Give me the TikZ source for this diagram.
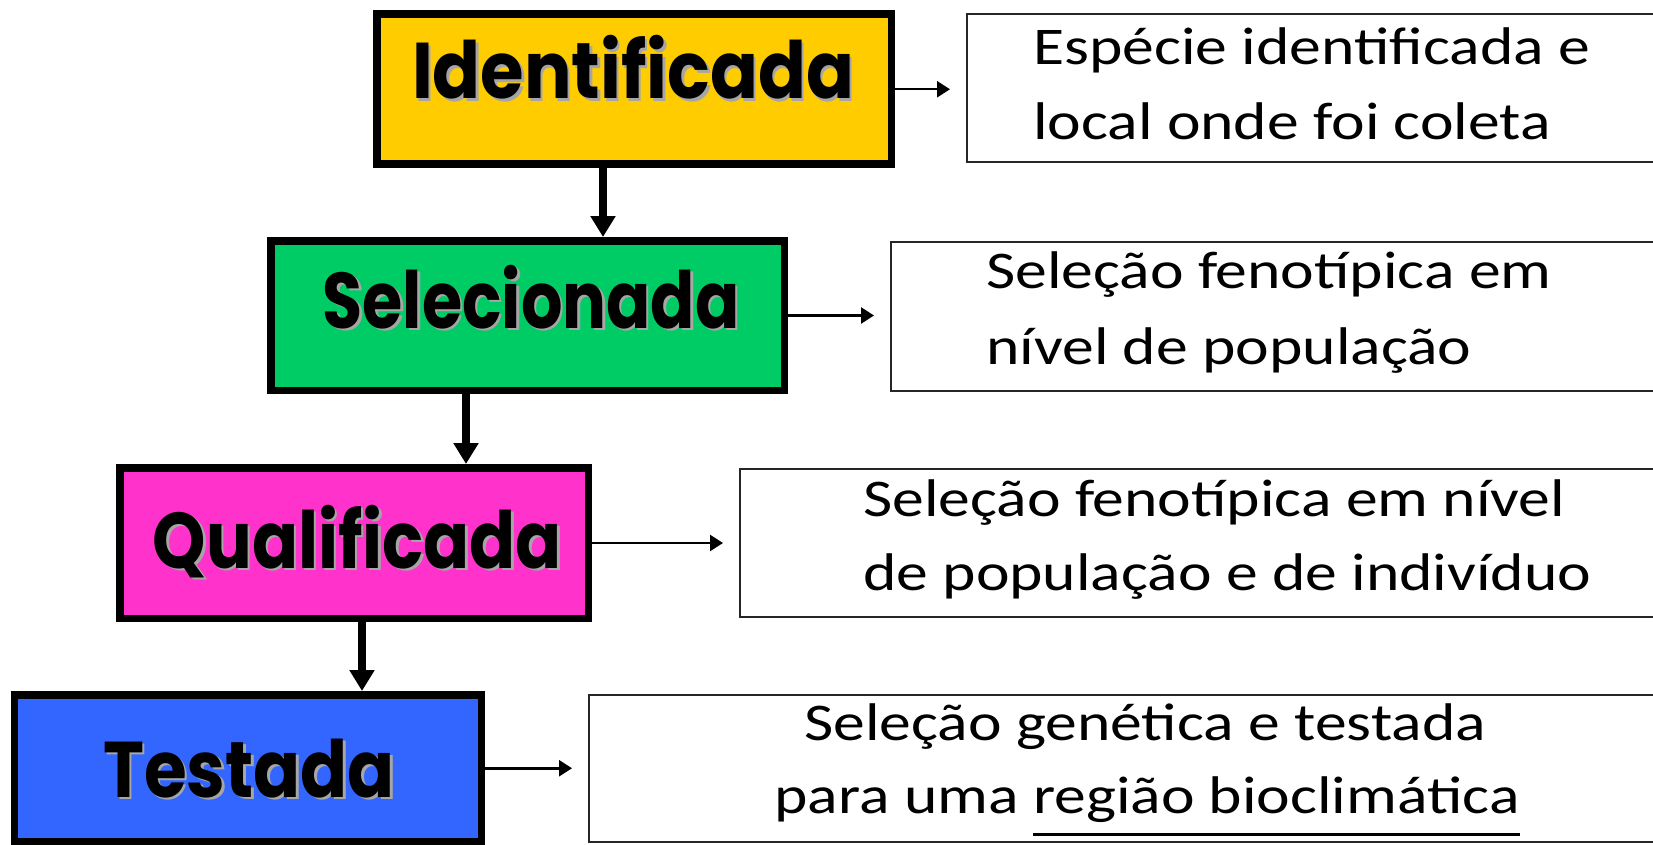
\documentclass[tikz,border=0pt]{standalone}
\usepackage{fontspec}
\usepackage{graphicx}
\setmainfont{Carlito}
\newfontfamily\labelfont{Poppins}
\usetikzlibrary{arrows.meta}
\definecolor{cyel}{HTML}{FFCC00}
\definecolor{cgrn}{HTML}{00CC66}
\definecolor{cpink}{HTML}{FF33CC}
\definecolor{cblue}{HTML}{3366FF}
\newlength\ulw
\newcommand\ulx[1]{\settowidth\ulw{#1}\rlap{\rule[-22.5pt]{\ulw}{3pt}}#1}
\newcommand\dt[1]{\scalebox{1.2}[1]{#1}}
\newcommand\lbl[2]{\makebox[0pt][l]{\hspace{2.5pt}\raisebox{-2.5pt}{\color{black!35}\resizebox{#1}{\height}{\labelfont\bfseries #2}}}\resizebox{#1}{\height}{\labelfont\bfseries #2}}
\begin{document}
\begin{tikzpicture}[x=1pt,y=-1pt,
  stage/.style={draw=black, line width=7.5pt, inner sep=0pt, rectangle},
  desc/.style={draw=black!85, line width=2pt, fill=white, inner sep=0pt, rectangle},
  dtext/.style={inner sep=0pt, font=\fontsize{53}{64}\selectfont},
  ltext/.style={inner sep=0pt, anchor=base, font=\fontsize{79}{90}\selectfont},
  down/.style={line width=7.5pt, -{Triangle[width=24pt,length=21pt]}},
  sidearrow/.style={line width=2.5pt, -{Triangle[width=16pt,length=13pt]}, shorten >=16pt}]
\useasboundingbox (0,0) rectangle (1653,845);
\fill[white] (0,0) rectangle (1653,845);
% stage boxes
\node[stage, fill=cyel, minimum width=514.5pt, minimum height=150pt] (id) at (634,89.25) {};
\node[stage, fill=cgrn, minimum width=513.5pt, minimum height=149.5pt] (sel) at (527.5,315.5) {};
\node[stage, fill=cpink, minimum width=468.5pt, minimum height=150.5pt] (qual) at (354,543) {};
\node[stage, fill=cblue, minimum width=467pt, minimum height=147pt] (test) at (247.75,768.25) {};
% labels
\node[ltext] (idl) at (633,99) {\lbl{442pt}{Identificada}};
\node[ltext] (sell) at (531,328) {\lbl{416.5pt}{Selecionada}};
\node[ltext] (quall) at (357.5,568) {\lbl{409pt}{Qualificada}};
\node[ltext] (testl) at (249,797) {\lbl{291.5pt}{Testada}};
% description boxes
\node[desc, minimum width=733pt, minimum height=148.3pt] (d1) at (1333.5,87.85) {};
\node[desc, minimum width=809pt, minimum height=149pt] (d2) at (1295.5,316.2) {};
\node[desc, minimum width=960pt, minimum height=148pt] (d3) at (1220,542.7) {};
\node[desc, minimum width=1111pt, minimum height=147pt] (d4) at (1144.5,768.5) {};
% description texts
\node[dtext, anchor=base west] (d1a) at (1033,65) {\dt{Espécie identificada e}};
\node[dtext, anchor=base west] (d1b) at (1033,140) {\dt{local onde foi coleta}};
\node[dtext, anchor=base west] (d2a) at (986,288) {\dt{Seleção fenotípica em}};
\node[dtext, anchor=base west] (d2b) at (986,364) {\dt{nível de população}};
\node[dtext, anchor=base west] (d3a) at (863,516) {\dt{Seleção fenotípica em nível}};
\node[dtext, anchor=base west] (d3b) at (863,590) {\dt{de população e de indivíduo}};
\node[dtext, anchor=base] (d4a) at (1145,740) {\dt{Seleção genética e testada}};
\node[dtext, anchor=base] (d4b) at (1147,813) {\dt{para uma \ulx{região bioclimática}}};
% connectors
\coordinate (a1) at (603,0);
\coordinate (a2) at (466,0);
\coordinate (a3) at (362,0);
\draw[down] (id.south -| a1) -- (sel.north -| a1);
\draw[down] (sel.south -| a2) -- (qual.north -| a2);
\draw[down] (qual.south -| a3) -- (test.north -| a3);
\draw[sidearrow] (id.east) -- (id.east -| d1.west);
\draw[sidearrow] (sel.east) -- (sel.east -| d2.west);
\draw[sidearrow] (qual.east) -- (qual.east -| d3.west);
\draw[sidearrow] (test.east) -- (test.east -| d4.west);
\end{tikzpicture}
\end{document}
